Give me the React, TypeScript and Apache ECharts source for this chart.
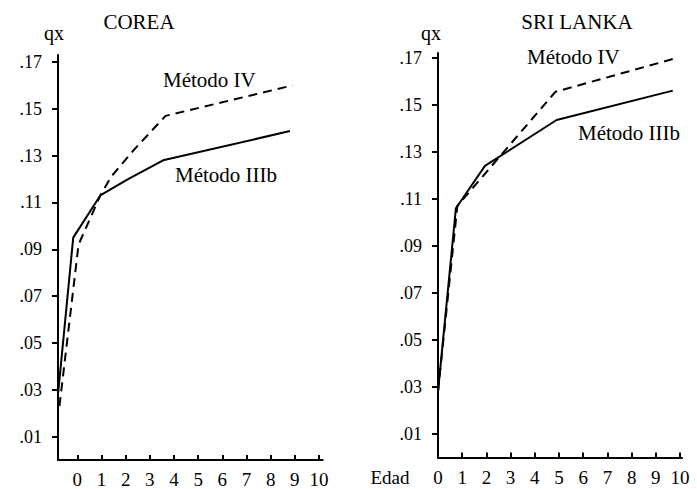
import React, { useEffect, useRef } from "react";
import * as echarts from "echarts";

// ---- data ----
const ageTicks = [0, 1, 2, 3, 4, 5, 6, 7, 8, 9, 10];
const qxTicks = [0.01, 0.03, 0.05, 0.07, 0.09, 0.11, 0.13, 0.15, 0.17];

// COREA
const coreaIIIbAge = [-0.79, -0.17, 0.95, 2.1, 3.55, 8.8];
const coreaIIIbQx = [0.029, 0.095, 0.113, 0.12, 0.128, 0.1405];
const coreaIVAge = [-0.74, 0.05, 0.95, 1.4, 2.3, 3.65, 8.9];
const coreaIVQx = [0.023, 0.092, 0.113, 0.121, 0.132, 0.147, 0.16];

// SRI LANKA
const sriIIIbAge = [0, 0.74, 1.94, 4.9, 9.7];
const sriIIIbQx = [0.028, 0.106, 0.124, 0.1435, 0.156];
const sriIVAge = [0, 0.8, 4.85, 9.9];
const sriIVQx = [0.028, 0.107, 0.1555, 0.17];

const FONT = '"Liberation Serif", "Times New Roman", serif';

const zip = (a: number[], b: number[]) => a.map((x, i) => [x, b[i]]);

export default function App() {
  const ref = useRef<HTMLDivElement>(null);
  useEffect(() => {
    if (!ref.current) return;
    const chart = echarts.init(ref.current, undefined, { renderer: "svg" });

    const xAxisBase = (gridIndex: number, min: number, max: number) => ({
      type: "value",
      gridIndex,
      min,
      max,
      axisLine: { show: true, onZero: false, lineStyle: { color: "#000", width: 2 } },
      axisTick: {
        show: true,
        inside: true,
        length: 5,
        lineStyle: { color: "#000", width: 2 },
        customValues: ageTicks,
      },
      axisLabel: {
        show: true,
        color: "#000",
        fontFamily: FONT,
        fontSize: 19,
        margin: 10,
        customValues: ageTicks,
        showMinLabel: true,
        showMaxLabel: true,
      },
      splitLine: { show: false },
    });

    const yAxisBase = (gridIndex: number, max: number) => ({
      type: "value",
      gridIndex,
      min: 0,
      max,
      axisLine: { show: true, onZero: false, lineStyle: { color: "#000", width: 2 } },
      axisTick: {
        show: true,
        inside: false,
        length: 6,
        lineStyle: { color: "#000", width: 2 },
        customValues: qxTicks,
      },
      axisLabel: {
        show: true,
        color: "#000",
        fontFamily: FONT,
        fontSize: 18,
        margin: 16,
        customValues: qxTicks,
        formatter: (v: number) => v.toFixed(2).replace(/^0/, ""),
      },
      splitLine: { show: false },
    });

    const lineSeries = (idx: number, data: number[][], dashed: boolean) => ({
      type: "line",
      xAxisIndex: idx,
      yAxisIndex: idx,
      data,
      showSymbol: false,
      symbol: "none",
      clip: false,
      lineStyle: {
        color: "#000",
        width: 2,
        type: dashed ? [9, 6] : "solid",
      },
    });

    const txt = (text: string, x: number, y: number, size: number, align = "left") => ({
      type: "text",
      x,
      y,
      style: {
        text,
        fill: "#000",
        fontFamily: FONT,
        fontSize: size,
        align,
        verticalAlign: "middle",
      },
    });

    chart.setOption({
      animation: false,
      backgroundColor: "#fff",
      grid: [
        { left: 58, top: 55, width: 264.6, height: 406 },
        { left: 438, top: 53, width: 244, height: 404.5 },
      ],
      xAxis: [xAxisBase(0, -0.8, 10.15), xAxisBase(1, 0, 10.08)],
      yAxis: [yAxisBase(0, 0.173), yAxisBase(1, 0.172)],
      series: [
        lineSeries(0, zip(coreaIIIbAge, coreaIIIbQx), false),
        lineSeries(0, zip(coreaIVAge, coreaIVQx), true),
        lineSeries(1, zip(sriIIIbAge, sriIIIbQx), false),
        lineSeries(1, zip(sriIVAge, sriIVQx), true),
      ],
      graphic: [
        txt("qx", 54, 33, 20, "center"),
        txt("COREA", 139, 22, 21, "center"),
        txt("Método IV", 163, 80, 21),
        txt("Método IIIb", 175, 175, 21),
        txt("qx", 431, 33, 20, "center"),
        txt("SRI LANKA", 577, 22, 21, "center"),
        txt("Método IV", 527, 57, 21),
        txt("Método IIIb", 578, 133, 21),
        txt("Edad", 390, 477, 19, "center"),
      ],
    });

    return () => chart.dispose();
  }, []);

  return (
    <div
      ref={ref}
      style={{ position: "fixed", left: 0, top: 0, width: 697, height: 489, background: "#fff" }}
    />
  );
}
